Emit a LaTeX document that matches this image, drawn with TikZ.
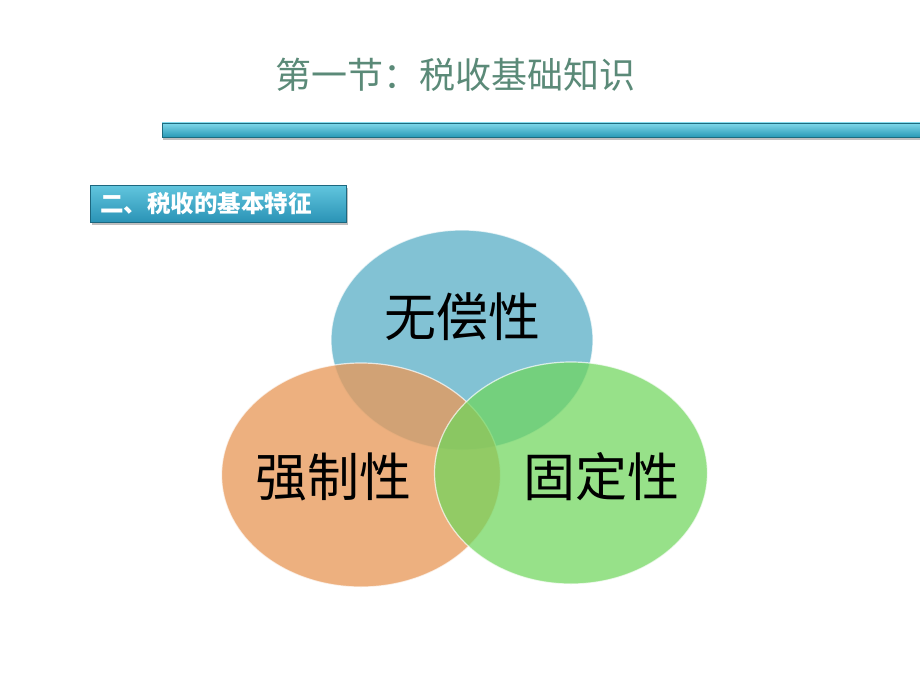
\documentclass[tikz,border=0pt]{standalone}
\usepackage{fontspec}
\newfontfamily\cjk{Noto Sans CJK SC}
\usetikzlibrary{shapes.geometric}

\definecolor{titlegreen}{HTML}{5B8A78}
\definecolor{barlight}{HTML}{7FD8EA}
\definecolor{bardark}{HTML}{2A9AB6}
\definecolor{boxlight}{HTML}{62C6DE}
\definecolor{boxdark}{HTML}{2A93B6}
\definecolor{wublue}{HTML}{5FB2C8}
\definecolor{qiangorange}{HTML}{E89A5B}
\definecolor{gugreen}{HTML}{6FD65C}

\begin{document}
\begin{tikzpicture}[x=1pt,y=-1pt,
  bubble/.style={ellipse,draw=white,line width=1.2pt,draw opacity=0.7,
    fill opacity=0.78,inner sep=0pt},
  bigword/.style={font=\cjk\fontsize{52}{56}\selectfont,text=black}]
  \useasboundingbox[fill=white] (0,0) rectangle (920,690);

  \node[font=\cjk\fontsize{36}{40}\selectfont,text=titlegreen] at (455,75) (title) {第一节：税收基础知识};

  \fill[black!25] (163,126) rectangle (920,140);
  \node[top color=barlight,bottom color=bardark,draw=bardark!70!black,line width=0.4pt,
    minimum width=758pt,minimum height=14pt,inner sep=0pt] at (541,130) (bar) {};

  \fill[black!25] (92,188) rectangle (348,225);
  \node[top color=boxlight,bottom color=boxdark,draw=boxdark!70!black,line width=0.4pt,
    minimum width=256pt,minimum height=37pt,inner sep=0pt] at (218,203.5) (tag) {};
  \node[font=\cjk\bfseries\fontsize{23.5}{26}\selectfont,text=white,anchor=west,inner sep=0pt] at (100,204) (tagtext) {二、税收的基本特征};

  \node[bubble,fill=wublue,minimum width=262pt,minimum height=220pt] at (462,340) (wu) {};
  \node[bubble,fill=qiangorange,minimum width=279pt,minimum height=224pt] at (361,475) (qiang) {};
  \node[bubble,fill=gugreen,fill opacity=0.72,minimum width=273pt,minimum height=222pt] at (571,473) (gu) {};

  \node[bigword] at (462,317) (wutext) {无偿性};
  \node[bigword] at (333,477) (qiangtext) {强制性};
  \node[bigword] at (601,477) (gutext) {固定性};
\end{tikzpicture}
\end{document}
